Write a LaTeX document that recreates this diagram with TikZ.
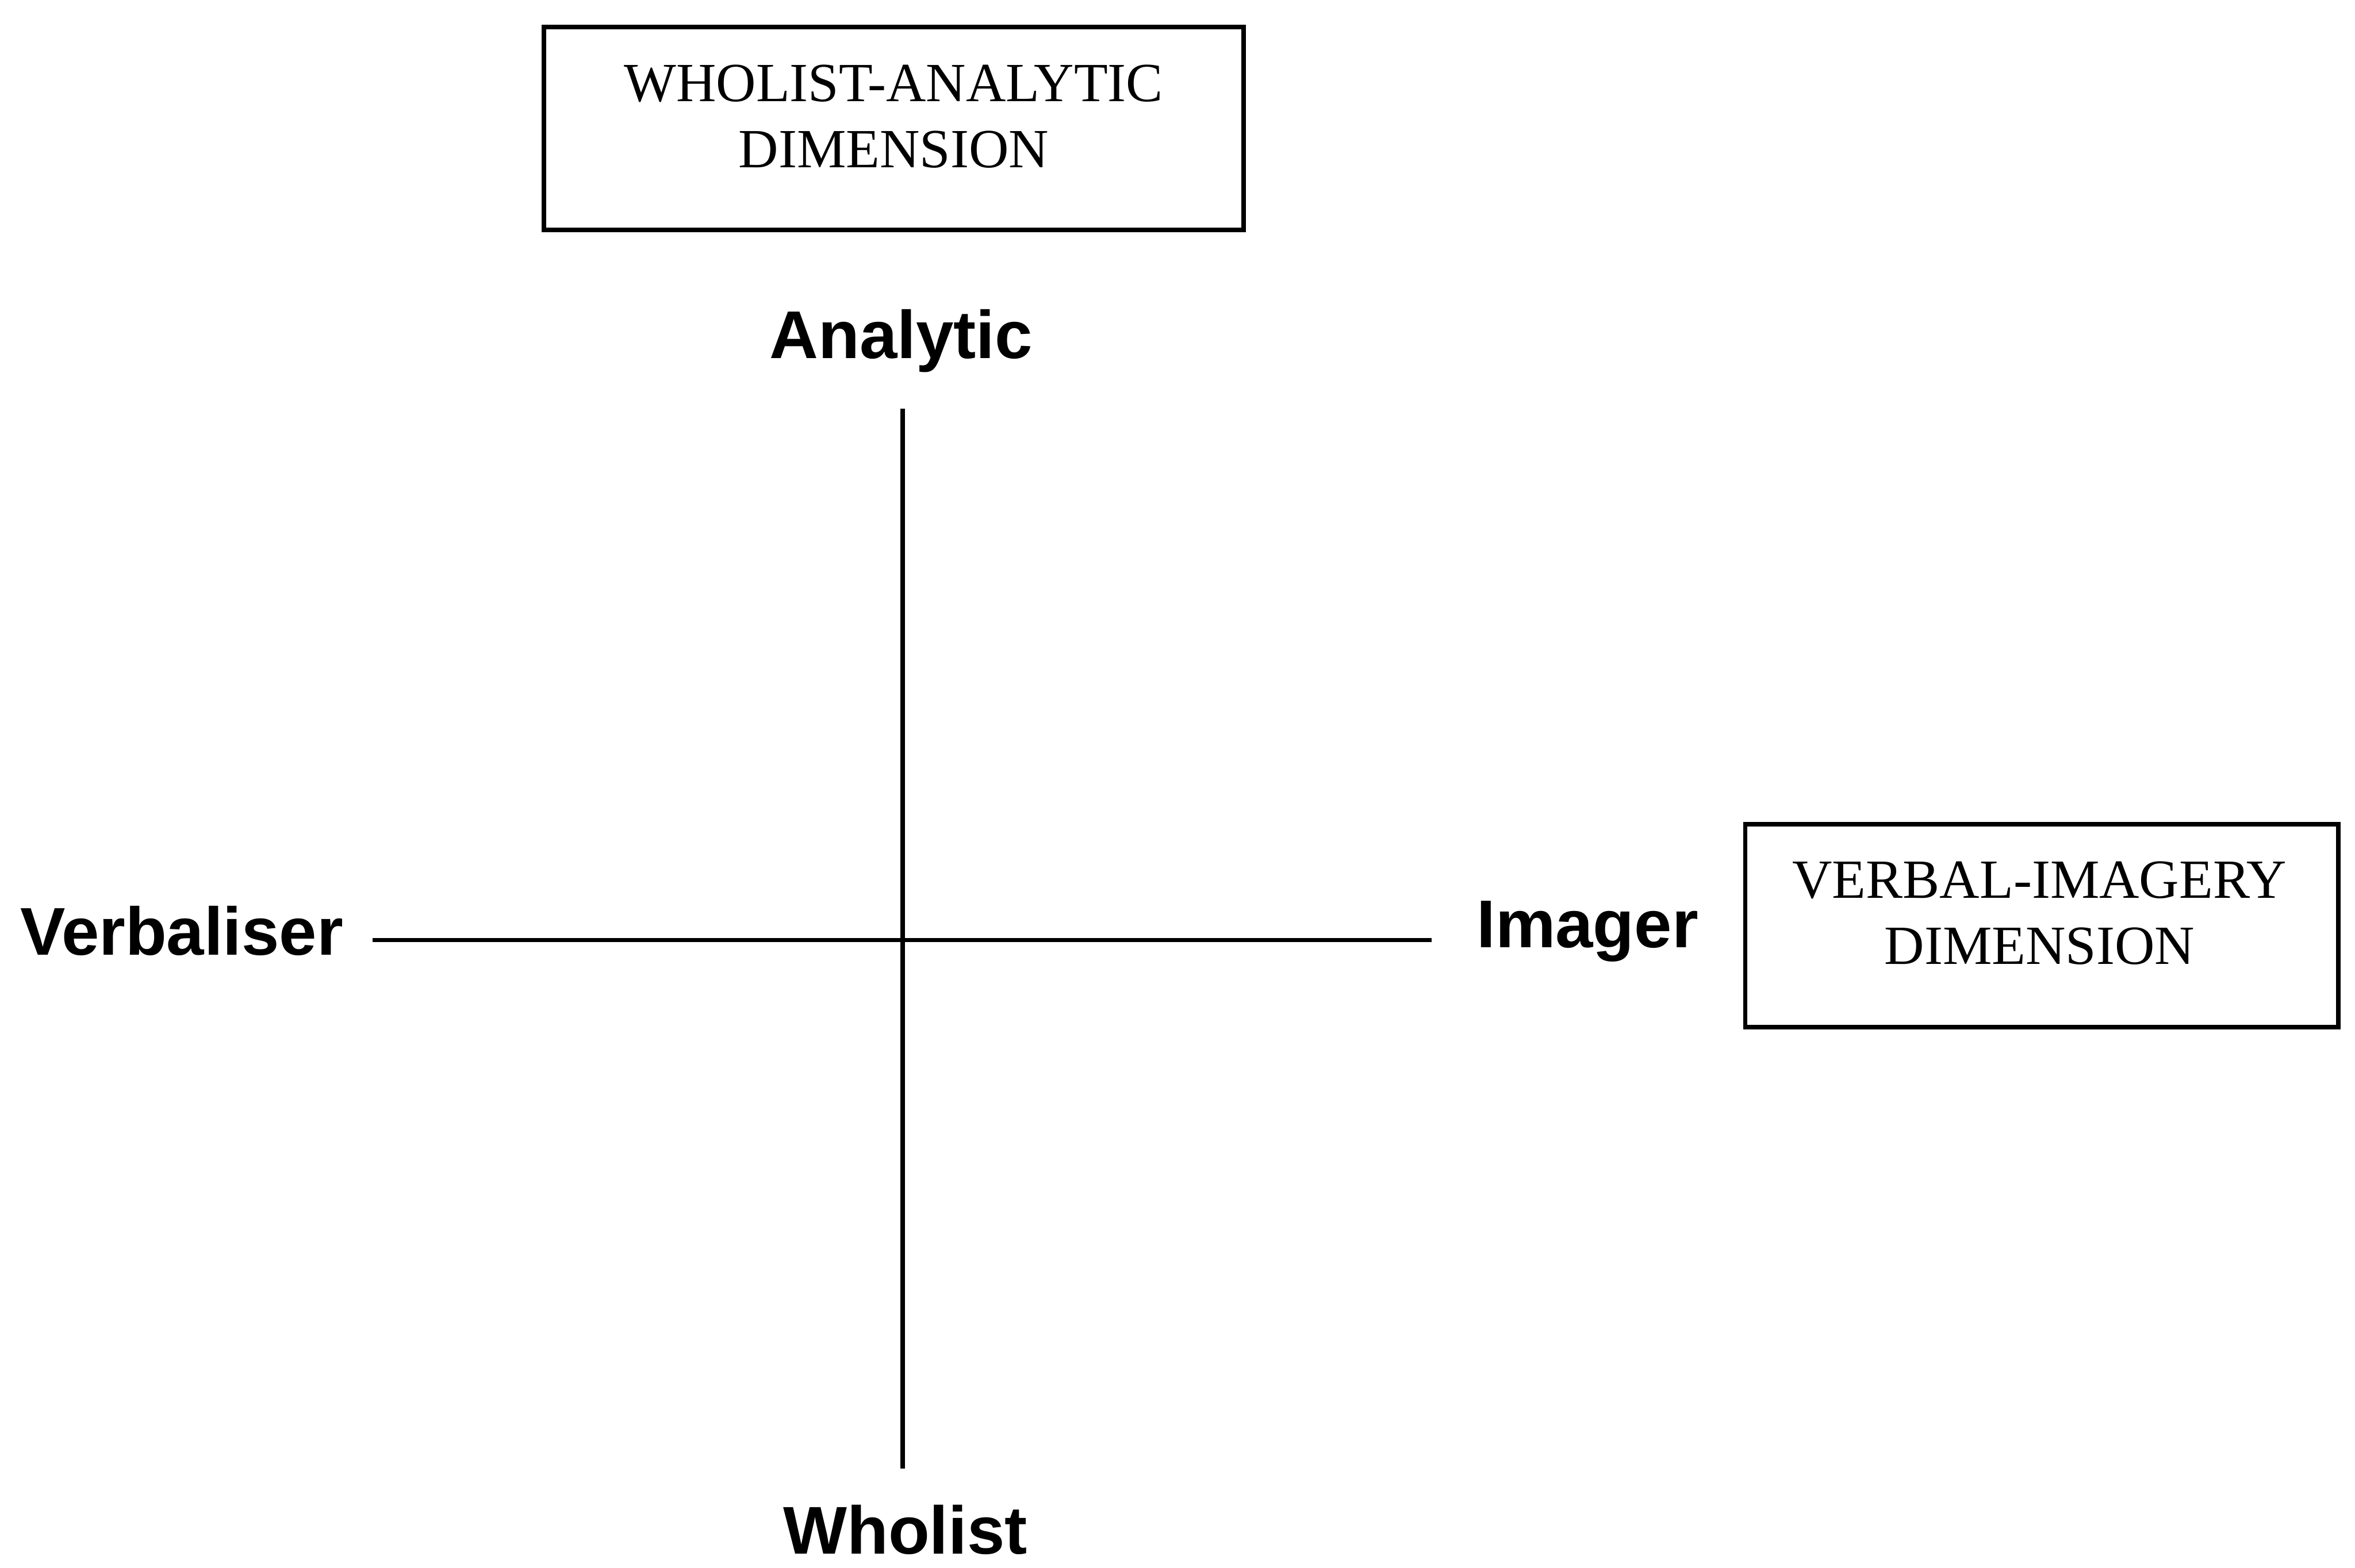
\documentclass[tikz,border=0pt]{standalone}
\usepackage{fontspec}
\setmainfont{Liberation Serif}
\newfontfamily\axisfont{Liberation Sans}
\begin{document}
\begin{tikzpicture}[x=0.5pt,y=-0.5pt,
  axis/.style={line width=1.4pt},
  dimbox/.style={draw, line width=1.5pt, inner sep=0pt},
  dimtext/.style={align=center, inner sep=0pt,
    font={\fontsize{18.4}{22}\selectfont}},
  pole/.style={inner sep=0pt,
    font={\axisfont\fontsize{22.5}{27}\selectfont\bfseries}}]
\useasboundingbox (0,0) rectangle (1568,1044);

% dimension boxes
\node[dimbox, minimum width=233pt, minimum height=67.5pt] (wabox) at (595,85.5) {};
\node[dimtext] (watext) at (595,77.5) {WHOLIST-ANALYTIC\\DIMENSION};

\node[dimbox, minimum width=197.5pt, minimum height=67.5pt] (vibox) at (1359.5,616.5) {};
\node[dimtext] (vitext) at (1358,608) {VERBAL-IMAGERY\\DIMENSION};

% pole labels
\node[pole, anchor=base] (analytic) at (600,238.5) {Analytic};
\node[pole, anchor=base] (wholist) at (602.75,1035) {Wholist};
\node[pole, anchor=base] (verbaliser) at (121,636) {Verbaliser};
\node[pole, anchor=base] (imager) at (1057,631) {Imager};

% axes
\coordinate (ntip) at (601,272);
\coordinate (stip) at (601,978);
\coordinate (wtip) at (248,626);
\coordinate (etip) at (953,626);
\draw[axis] (ntip) -- (stip);
\draw[axis] (wtip) -- (etip);
\end{tikzpicture}
\end{document}
